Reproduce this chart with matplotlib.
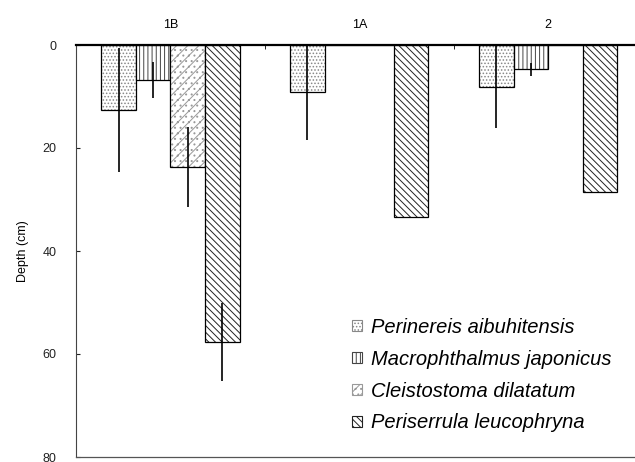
import matplotlib
matplotlib.use("Agg")
import matplotlib.pyplot as plt
import numpy as np
from matplotlib.patches import Patch

plt.rcParams['font.family'] = ['Liberation Sans', 'DejaVu Sans']
plt.rcParams['hatch.linewidth'] = 0.7

sites = ["1B", "1A", "2"]
species = ["Perinereis aibuhitensis", "Macrophthalmus japonicus",
           "Cleistostoma dilatatum", "Periserrula leucophryna"]
# mean burrow depth (cm) per species at each site
depth = {
    "Perinereis aibuhitensis": [12.6, 9.1, 8.2],
    "Macrophthalmus japonicus": [6.8, 0.0, 4.7],
    "Cleistostoma dilatatum": [23.7, 0.0, 0.0],
    "Periserrula leucophryna": [57.7, 33.4, 28.5],
}
err = {
    "Perinereis aibuhitensis": [12.0, 9.3, 8.0],
    "Macrophthalmus japonicus": [3.5, 0.0, 1.3],
    "Cleistostoma dilatatum": [7.8, 0.0, 0.0],
    "Periserrula leucophryna": [7.6, 0.0, 0.0],
}
yticks = [0, 20, 40, 60, 80]

styles = [
    dict(hatch='.....', hc='#888888'),
    dict(hatch='||||', hc='#444444'),
    dict(hatch='...///', hc='#999999'),
    dict(hatch='\\\\\\\\\\', hc='#222222'),
]

fig = plt.figure(figsize=(6.35, 4.62), dpi=100)
ax = fig.add_axes([76/635, 1-457/462, 1-76/635, (457-45)/462])

x = np.arange(len(sites))
w = 0.183
for i, sp in enumerate(species):
    pos = x + (i - 1.5) * w
    vals = np.array(depth[sp])
    st = styles[i]
    ax.bar(pos, vals, w, color='white', edgecolor=st['hc'], hatch=st['hatch'], lw=0)
    ax.bar(pos, vals, w, fill=False, edgecolor='black', lw=0.9)
    e = np.array(err[sp])
    m = e > 0
    ax.vlines(pos[m], vals[m] - e[m], vals[m] + e[m], color='black', lw=1.2)

ax.set_xlim(-0.5, 2.46)
ax.set_ylim(80, 0)
ax.set_yticks(yticks)
ax.tick_params(axis='y', direction='in', length=3, labelsize=9, colors='#222222', pad=14)
ax.set_ylabel("Depth (cm)", fontsize=9, labelpad=10)

ax.xaxis.tick_top()
ax.set_xticks(x)
ax.set_xticklabels(sites, fontsize=9)
ax.tick_params(axis='x', which='major', length=0, pad=10)
ax.set_xticks([0.5, 1.5], minor=True)
ax.tick_params(axis='x', which='minor', direction='in', length=3, top=True, bottom=False)

ax.spines['right'].set_visible(False)
ax.spines['top'].set_linewidth(1.6)
ax.spines['left'].set_linewidth(0.8)
ax.spines['left'].set_color('#444444')
ax.spines['bottom'].set_linewidth(0.9)
ax.spines['bottom'].set_color('#555555')

handles = [Patch(facecolor='white', edgecolor=styles[i]['hc'], hatch=styles[i]['hatch'], lw=0.8)
           for i in range(4)]
leg = ax.legend(handles, species, loc='upper left', bbox_to_anchor=(0.494, 0.338),
                frameon=False, prop={'style': 'italic', 'size': 14.5},
                handlelength=0.5, handleheight=0.5, handletextpad=0.45,
                labelspacing=0.64, borderaxespad=0, borderpad=0)

fig.savefig("out.png", dpi=100)
